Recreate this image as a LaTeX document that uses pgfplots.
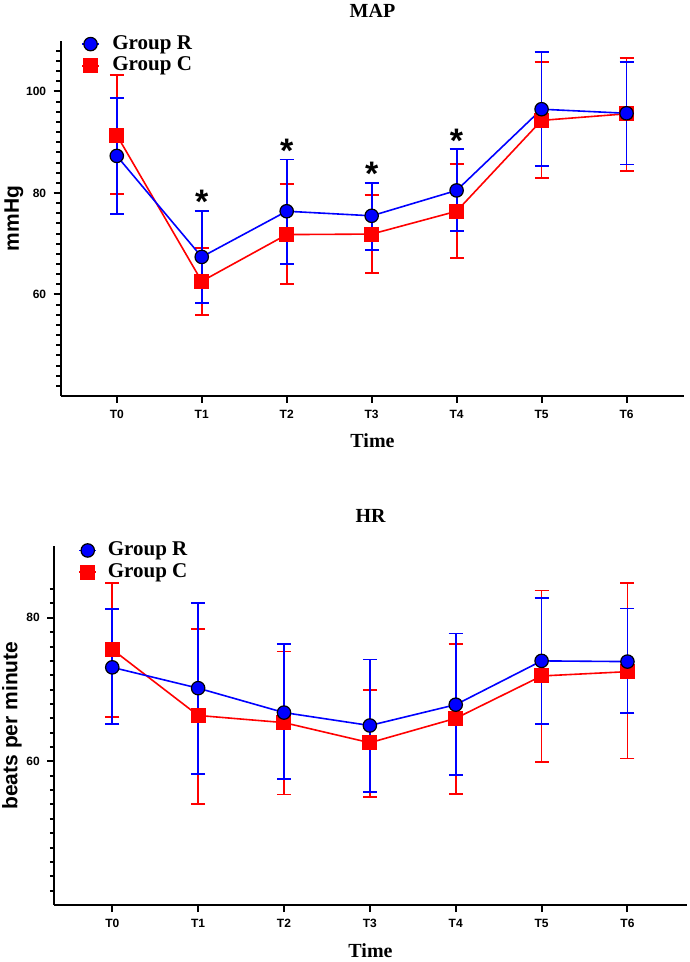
\documentclass[border=0pt]{standalone}
\usepackage{fontspec}
\setmainfont{Liberation Serif}
\setsansfont{Liberation Sans}
\usepackage{pgfplots}
\usepackage{pgfplotstable}
\pgfplotsset{compat=1.18}

\pgfplotstableread{
x  y     lo    hi
0  87.3  75.8  98.7
1  67.4  58.3  76.4
2  76.4  66.0  86.6
3  75.5  68.7  82.0
4  80.5  72.5  88.6
5  96.5  85.3  107.7
6  95.7  85.6  105.8
}\mapR
\pgfplotstableread{
x  y     lo    hi
0  91.4  79.8  103.2
1  62.6  55.9  69.1
2  71.8  62.1  81.7
3  71.9  64.3  79.6
4  76.4  67.2  85.7
5  94.3  82.9  105.8
6  95.6  84.4  106.6
}\mapC
\pgfplotstableread{
x  y     lo    hi
0  73.1  65.2  81.2
1  70.2  58.3  82.1
2  66.8  57.6  76.4
3  65.0  55.7  74.2
4  67.9  58.1  77.8
5  74.0  65.2  82.8
6  73.9  66.7  81.3
}\hrR
\pgfplotstableread{
x  y     lo    hi
0  75.6  66.2  84.9
1  66.4  54.1  78.4
2  65.4  55.4  75.3
3  62.6  55.0  70.0
4  66.0  55.5  76.4
5  71.9  59.9  83.8
6  72.5  60.4  84.8
}\hrC

\pgfplotsset{
  mychart/.style={
    scale only axis,
    axis lines*=left,
    axis line style={line width=2pt, black},
    tick align=outside,
    major tick length=7pt,
    minor tick length=4.5pt,
    every tick/.style={line width=2pt, black},
    xtick={0,1,2,3,4,5,6},
    xticklabels={T0,T1,T2,T3,T4,T5,T6},
    ytick={60,80,100},
    yticklabels={60,80,100},
    tick label style={font=\sffamily\bfseries\fontsize{12}{12}\selectfont},
    xticklabel style={anchor=north, yshift=-4pt},
    yticklabel style={anchor=east, xshift=-4pt},
    clip=false,
    legend cell align=left,
    reverse legend,
    title style={anchor=center, yshift=-6pt, font=\bfseries\fontsize{20}{20}\selectfont},
    xlabel style={anchor=center, font=\bfseries\fontsize{20}{20}\selectfont},
    ylabel style={anchor=center, font=\sffamily\bfseries\fontsize{21}{21}\selectfont},
    xlabel={Time},
  },
  errR/.style={color=blue, line width=1.8pt, only marks, mark=none, forget plot,
    error bars/.cd, y dir=both, y explicit,
    error bar style={color=blue, line width=1.8pt},
    error mark options={rotate=90, color=blue, mark size=7pt, line width=1.8pt}},
  errC/.style={color=red, line width=1.8pt, only marks, mark=none, forget plot,
    error bars/.cd, y dir=both, y explicit,
    error bar style={color=red, line width=1.8pt},
    error mark options={rotate=90, color=red, mark size=7pt, line width=1.8pt}},
  rline/.style={color=blue, line width=1.6pt, mark=*, mark size=6.7pt,
    mark options={fill=blue, draw=black, line width=1.2pt}},
  cline/.style={color=red, line width=1.6pt, mark=square*, mark size=7pt,
    mark options={fill=red, draw=red, line width=0pt}},
  /pgfplots/table/errtab/.style={x=x, y=y,
    y error plus expr=\thisrow{hi}-\thisrow{y},
    y error minus expr=\thisrow{y}-\thisrow{lo}},
}

\begin{document}
\begin{tikzpicture}
\useasboundingbox (0,0) rectangle (690pt,962pt);

% ---------- MAP ----------
\begin{axis}[mychart,
  at={(60.7pt,566pt)}, anchor=south west,
  width=623.6pt, height=355.3pt,
  xmin=-0.66, xmax=6.68, ymin=40, ymax=110,
  minor ytick={42,44,...,108},
  title={MAP},
  title style={at={(axis description cs:0.5,1.0844)}},
  xlabel style={at={(axis description cs:0.5,-0.126)}},
  ylabel={mmHg},
  ylabel style={at={(axis description cs:-0.075,0.5)}},
  legend style={at={(axis description cs:0.0326,0.96)}, anchor=west,
    draw=none, fill=none, inner sep=0pt, row sep=1.6pt,
    font=\bfseries\fontsize{21}{21}\selectfont,
    nodes={inner sep=0pt, text height=15pt, text depth=5pt},
    /tikz/column sep=12.5pt},
]
\addplot[errC] table[errtab] {\mapC};
\addplot[cline] table[x=x, y=y] {\mapC};
\addlegendentry{Group C}
\addplot[errR] table[errtab] {\mapR};
\addplot[rline] table[x=x, y=y] {\mapR};
\addlegendentry{Group R}
\addplot[only marks, mark=text, text mark={*}, text mark as node=true,
  text mark style={anchor=north, inner sep=0pt, black,
    font=\sffamily\bfseries\fontsize{34}{34}\selectfont},
  forget plot] coordinates {(1,80.6) (2,90.6) (3,86.1) (4,92.7)};
\end{axis}

% ---------- HR ----------
\begin{axis}[mychart,
  at={(54.3pt,57pt)}, anchor=south west,
  width=632.4pt, height=359pt,
  xmin=-0.675, xmax=6.69, ymin=40, ymax=90,
  ytick={60,80}, yticklabels={60,80},
  minor ytick={42,44,...,84},
  title={HR},
  title style={at={(axis description cs:0.5,1.085)}},
  xlabel style={at={(axis description cs:0.5,-0.1267)}},
  ylabel={beats per minute},
  ylabel style={at={(axis description cs:-0.0669,0.5)}},
  legend style={at={(axis description cs:0.0378,0.9575)}, anchor=west,
    draw=none, fill=none, inner sep=0pt, row sep=1.6pt,
    font=\bfseries\fontsize{21}{21}\selectfont,
    nodes={inner sep=0pt, text height=15pt, text depth=5pt},
    /tikz/column sep=10.8pt},
]
\addplot[errC] table[errtab] {\hrC};
\addplot[cline] table[x=x, y=y] {\hrC};
\addlegendentry{Group C}
\addplot[errR] table[errtab] {\hrR};
\addplot[rline] table[x=x, y=y] {\hrR};
\addlegendentry{Group R}
\end{axis}
\end{tikzpicture}
\end{document}
